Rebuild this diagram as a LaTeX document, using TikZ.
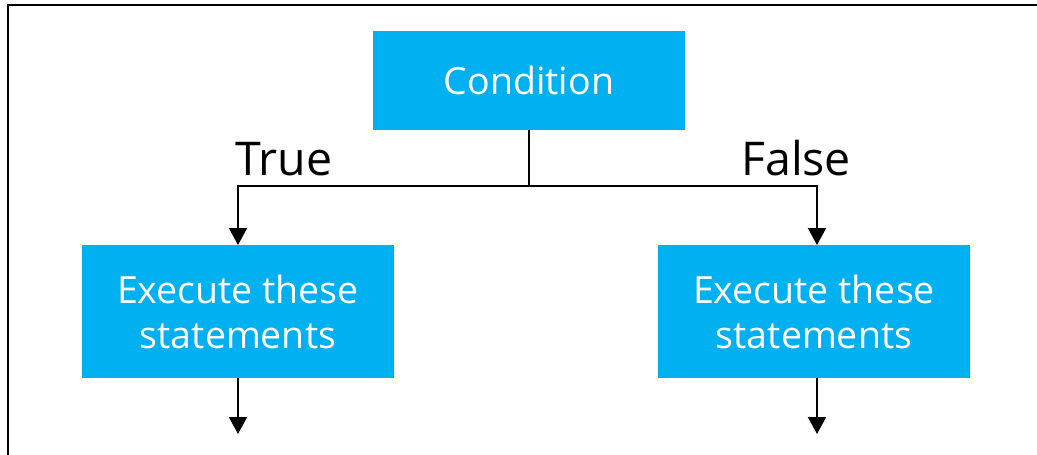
\documentclass[tikz,border=0pt]{standalone}
\usepackage{fontspec}
\setmainfont{Open Sans}
\usetikzlibrary{arrows.meta}
\definecolor{boxblue}{HTML}{00B0F0}
\begin{document}
\begin{tikzpicture}[x=1pt,y=-1pt,
  blockbox/.style={fill=boxblue,text=white,inner sep=0pt,align=center,font=\fontsize{37.5}{45}\selectfont},
  conn/.style={line width=2pt,draw=black},
  arr/.style={conn,-{Triangle[width=18pt,length=17pt]}},
  lbl/.style={font=\fontsize{46.5}{50}\selectfont,inner sep=0pt,anchor=base west}]
\useasboundingbox (0,0) rectangle (1037,455);
\draw[line width=2pt] (8,455) -- (8,5) -- (1037,5);
\node[blockbox,minimum width=312pt,minimum height=99pt] (cond) at (529,80.5) {Condition};
\node[blockbox,minimum width=312pt,minimum height=133pt] (left) at (238,311.5) {Execute these\\statements};
\node[blockbox,minimum width=312pt,minimum height=133pt] (right) at (814,311.5) {Execute these\\statements};
\coordinate (mid) at (529,186);
\coordinate (lend) at (238,434);
\coordinate (rend) at (817,434);
\draw[conn] (cond.south) -- (mid);
\draw[arr] (mid) -| (238,245);
\draw[arr] (mid) -| (817,245);
\draw[arr] (238,378) -- (lend);
\draw[arr] (817,378) -- (rend);
\node[lbl] (t) at (235,175) {True};
\node[lbl] (f) at (741,175) {False};
\end{tikzpicture}
\end{document}
